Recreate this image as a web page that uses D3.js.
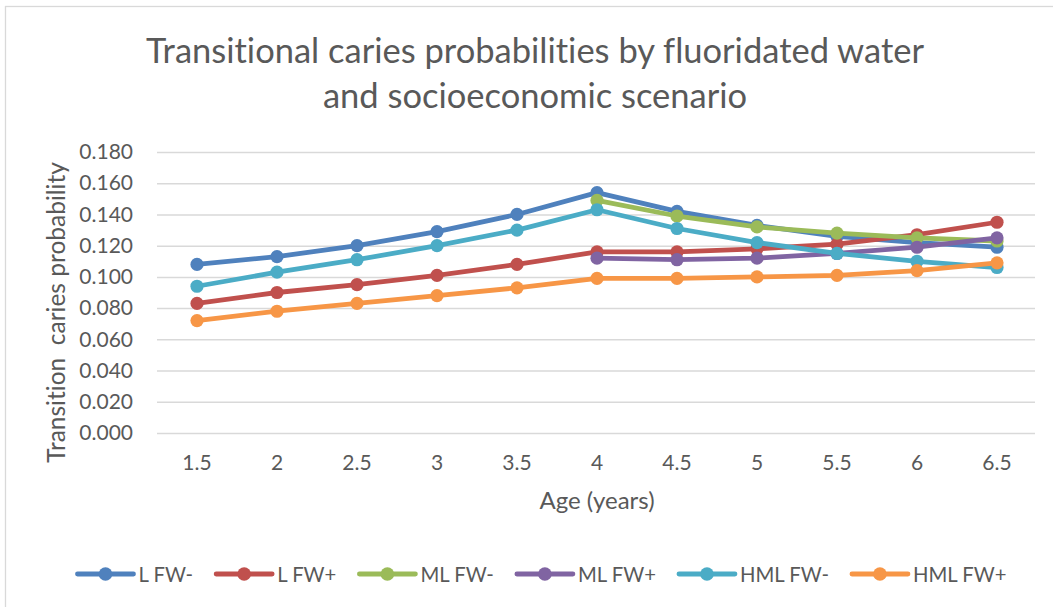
<!DOCTYPE html>
<html>
<head>
<meta charset="utf-8">
<script src="https://cdn.jsdelivr.net/npm/d3@7"></script>
<style>
  html, body { margin: 0; padding: 0; background: #fff; }
  svg { display: block; font-family: Lato, "Open Sans", sans-serif; font-variant-ligatures: none; }
</style>
</head>
<body>
<svg id="chart" width="1053" height="607"></svg>
<script>
// Ages (years) on the category axis
const ages = ["1.5", "2", "2.5", "3", "3.5", "4", "4.5", "5", "5.5", "6", "6.5"];

// Transition probabilities per scenario (null = no estimate for that age)
const lFwMinus   = [0.108, 0.113, 0.120, 0.129, 0.140, 0.154, 0.142, 0.133, 0.126, 0.122, 0.119];
const lFwPlus    = [0.083, 0.090, 0.095, 0.101, 0.108, 0.116, 0.116, 0.118, 0.121, 0.127, 0.135];
const mlFwMinus  = [null, null, null, null, null, 0.149, 0.139, 0.132, 0.128, 0.125, 0.123];
const mlFwPlus   = [null, null, null, null, null, 0.112, 0.111, 0.112, 0.115, 0.119, 0.125];
const hmlFwMinus = [0.094, 0.103, 0.111, 0.120, 0.130, 0.143, 0.131, 0.122, 0.115, 0.110, 0.106];
const hmlFwPlus  = [0.072, 0.078, 0.083, 0.088, 0.093, 0.099, 0.099, 0.100, 0.101, 0.104, 0.109];

const seriesNames  = ["L FW-", "L FW+", "ML FW-", "ML FW+", "HML FW-", "HML FW+"];
const seriesValues = [lFwMinus, lFwPlus, mlFwMinus, mlFwPlus, hmlFwMinus, hmlFwPlus];
const seriesColors = ["#4F81BD", "#C0504D", "#9BBB59", "#8064A2", "#4BACC6", "#F79646"];

const yTicks = [0, 0.02, 0.04, 0.06, 0.08, 0.10, 0.12, 0.14, 0.16, 0.18];

const titleLines = ["Transitional caries probabilities by fluoridated water", "and socioeconomic scenario"];
const xTitle = "Age (years)";
const yTitle = "Transition  caries probability";

const textColor = "#595959";
const gridColor = "#D9D9D9";

const svg = d3.select("#chart");

// chart background and frame
svg.append("rect").attr("width", 1053).attr("height", 607).attr("fill", "#fff");
svg.append("rect")
  .attr("x", 5.5).attr("y", 6.5).attr("width", 1100).attr("height", 700)
  .attr("fill", "none").attr("stroke", gridColor).attr("stroke-width", 1.3);

const plot = { left: 157, right: 1037, top: 152, bottom: 433 };

const x = d3.scaleBand().domain(ages).range([plot.left, plot.right]).padding(0);
const y = d3.scaleLinear().domain([0, 0.18]).range([plot.bottom, plot.top]);
const cx = a => x(a) + x.bandwidth() / 2;

// value axis with gridlines
const yAxis = svg.append("g")
  .attr("transform", `translate(${plot.left},0)`)
  .call(d3.axisLeft(y).tickValues(yTicks).tickFormat(d3.format(".3f"))
    .tickSizeInner(-(plot.right - plot.left - 2)).tickSizeOuter(0).tickPadding(24));
yAxis.select(".domain").remove();
yAxis.selectAll("line").attr("stroke", gridColor).attr("stroke-width", 1.5);
yAxis.selectAll("text").attr("fill", textColor).style("font-size", "21px").style("font-family", "Lato");

// category axis labels
const xAxis = svg.append("g")
  .attr("transform", `translate(0,${plot.bottom})`)
  .call(d3.axisBottom(x).tickSize(0).tickPadding(22));
xAxis.select(".domain").remove();
xAxis.selectAll("text").attr("fill", textColor).style("font-size", "21px").style("font-family", "Lato");

// series lines and markers
const line = d3.line()
  .defined(d => d.v !== null)
  .x(d => cx(d.a))
  .y(d => y(d.v));

seriesValues.forEach((vals, i) => {
  const pts = ages.map((a, j) => ({ a, v: vals[j] }));
  const g = svg.append("g").attr("class", "series");
  g.append("path")
    .attr("d", line(pts))
    .attr("fill", "none")
    .attr("stroke", seriesColors[i])
    .attr("stroke-width", 4.8)
    .attr("stroke-linejoin", "round")
    .attr("stroke-linecap", "round");
  g.selectAll("circle")
    .data(pts.filter(d => d.v !== null))
    .join("circle")
    .attr("cx", d => cx(d.a))
    .attr("cy", d => y(d.v))
    .attr("r", 6.6)
    .attr("fill", seriesColors[i]);
});

// title
svg.append("text")
  .attr("x", 535).attr("y", 63)
  .attr("text-anchor", "middle")
  .attr("fill", textColor)
  .style("font-size", "34.5px")
  .selectAll("tspan")
  .data(titleLines)
  .join("tspan")
  .attr("x", 535)
  .attr("dy", (d, i) => i === 0 ? 0 : 45)
  .text(d => d);

// axis titles
svg.append("text")
  .attr("x", (plot.left + plot.right) / 2).attr("y", 509)
  .attr("text-anchor", "middle")
  .attr("fill", textColor)
  .style("font-size", "24px")
  .text(xTitle);

svg.append("text")
  .attr("transform", `translate(65,${(plot.top + plot.bottom) / 2 + 20}) rotate(-90)`)
  .attr("text-anchor", "middle")
  .attr("fill", textColor)
  .style("font-size", "24.5px")
  .style("white-space", "pre")
  .text(yTitle);

// legend
const legend = svg.append("g").attr("class", "legend");
const legendY = 574;
let lx = 0;
seriesNames.forEach((name, i) => {
  const item = legend.append("g");
  item.append("line")
    .attr("x1", lx).attr("x2", lx + 56)
    .attr("y1", legendY).attr("y2", legendY)
    .attr("stroke", seriesColors[i]).attr("stroke-width", 4.8)
    .attr("stroke-linecap", "round");
  item.append("circle")
    .attr("cx", lx + 28).attr("cy", legendY).attr("r", 6.8)
    .attr("fill", seriesColors[i]);
  const t = item.append("text")
    .attr("x", lx + 61).attr("y", legendY + 7.5)
    .attr("fill", textColor)
    .style("font-size", "20.3px")
    .text(name);
  lx += 61 + t.node().getComputedTextLength() + 23;
});
const legendWidth = lx - 23;
legend.attr("transform", `translate(${542 - legendWidth / 2},0)`);
</script>
</body>
</html>
